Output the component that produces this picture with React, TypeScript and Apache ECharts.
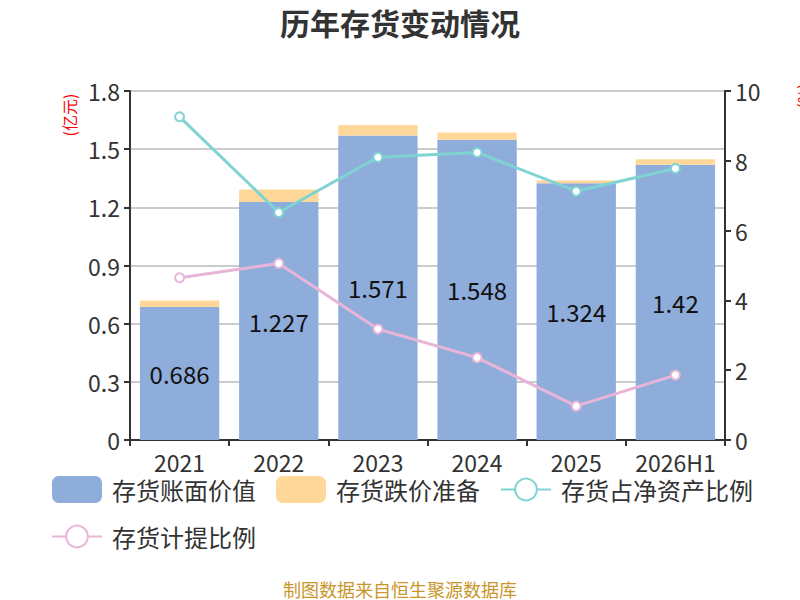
import React, { useEffect, useRef } from "react";
import * as echarts from "echarts";

const categories = ["2021", "2022", "2023", "2024", "2025", "2026H1"];
const bookValue = [0.686, 1.227, 1.571, 1.548, 1.324, 1.42];
const impairmentReserve = [0.034, 0.065, 0.053, 0.038, 0.014, 0.028];
const netAssetRatio = [9.26, 6.52, 8.1, 8.24, 7.13, 7.78];
const provisionRatio = [4.65, 5.06, 3.18, 2.36, 0.97, 1.86];
const leftTicks = { min: 0, max: 1.8, interval: 0.3 };
const rightTicks = { min: 0, max: 10, interval: 2 };

const FONT = "'Noto Sans CJK SC', 'Noto Sans', sans-serif";

export default function App() {
  const ref = useRef<HTMLDivElement>(null);
  useEffect(() => {
    document.body.style.margin = "0";
    if (!ref.current) return;
    const chart = echarts.init(ref.current, null, { renderer: "svg" });
    chart.setOption({
      animation: false,
      textStyle: { fontFamily: FONT },
      title: {
        text: "历年存货变动情况",
        left: "center",
        top: 2,
        textStyle: { fontSize: 30, fontWeight: "bold", color: "#333", fontFamily: FONT },
      },
      legend: {
        left: 46,
        top: 471,
        right: 10,
        itemWidth: 50,
        itemHeight: 27,
        itemGap: 20,
        textStyle: { fontSize: 24, color: "#333", fontFamily: FONT, padding: [0, 0, 0, 5] },
        data: [
          { name: "存货账面价值", icon: "roundRect" },
          { name: "存货跌价准备", icon: "roundRect" },
          { name: "存货占净资产比例" },
          { name: "存货计提比例" },
        ],
      },
      grid: { left: 130, right: 75, top: 91, bottom: 160 },
      xAxis: {
        type: "category",
        data: categories,
        axisLine: { lineStyle: { color: "#333", width: 2 } },
        axisTick: { show: true, length: 6, lineStyle: { color: "#333", width: 2 } },
        axisLabel: { fontSize: 23, color: "#333", margin: 10, interval: 0 },
      },
      yAxis: [
        {
          type: "value",
          min: leftTicks.min,
          max: leftTicks.max,
          interval: leftTicks.interval,
          axisLine: { show: true, lineStyle: { color: "#333", width: 2 } },
          axisTick: { show: true, length: 6, lineStyle: { color: "#333", width: 2 } },
          axisLabel: {
            fontSize: 23,
            color: "#333",
            margin: 10,
            formatter: (v: number) => String(+v.toFixed(1)),
          },
          splitLine: { lineStyle: { color: "#ccc", width: 2 } },
        },
        {
          type: "value",
          min: rightTicks.min,
          max: rightTicks.max,
          interval: rightTicks.interval,
          axisLine: { show: true, lineStyle: { color: "#333", width: 2 } },
          axisTick: { show: true, length: 6, lineStyle: { color: "#333", width: 2 } },
          axisLabel: { fontSize: 23, color: "#333", margin: 10 },
          splitLine: { show: false },
        },
      ],
      graphic: [
        {
          type: "text",
          x: 69,
          y: 115,
          rotation: Math.PI / 2,
          style: {
            text: "(亿元)",
            fill: "#f00",
            fontSize: 16,
            fontFamily: FONT,
            align: "center",
            verticalAlign: "middle",
          },
        },
        {
          type: "text",
          x: 803,
          y: 96,
          rotation: Math.PI / 2,
          style: {
            text: "(%)",
            fill: "#f00",
            fontSize: 16,
            fontFamily: FONT,
            align: "center",
            verticalAlign: "middle",
          },
        },
        {
          type: "text",
          x: 400,
          y: 589,
          style: {
            text: "制图数据来自恒生聚源数据库",
            fill: "#c9962a",
            fontSize: 18,
            fontFamily: FONT,
            align: "center",
            verticalAlign: "middle",
          },
        },
      ],
      series: [
        {
          name: "存货账面价值",
          type: "bar",
          stack: "inv",
          data: bookValue,
          barCategoryGap: "20%",
          itemStyle: { color: "#8eaddb" },
          label: {
            show: true,
            position: "inside",
            fontSize: 24,
            color: "#111",
            fontFamily: FONT,
          },
        },
        {
          name: "存货跌价准备",
          type: "bar",
          stack: "inv",
          data: impairmentReserve,
          itemStyle: { color: "#ffd899" },
        },
        {
          name: "存货占净资产比例",
          type: "line",
          yAxisIndex: 1,
          data: netAssetRatio,
          symbol: "emptyCircle",
          symbolSize: 9,
          lineStyle: { color: "#7fd3d3", width: 3 },
          itemStyle: { color: "#7fd3d3", borderWidth: 2 },
        },
        {
          name: "存货计提比例",
          type: "line",
          yAxisIndex: 1,
          data: provisionRatio,
          symbol: "emptyCircle",
          symbolSize: 9,
          lineStyle: { color: "#e8b5d8", width: 3 },
          itemStyle: { color: "#e8b5d8", borderWidth: 2 },
        },
      ],
    });
    return () => chart.dispose();
  }, []);
  return <div ref={ref} style={{ width: 800, height: 600 }} />;
}
